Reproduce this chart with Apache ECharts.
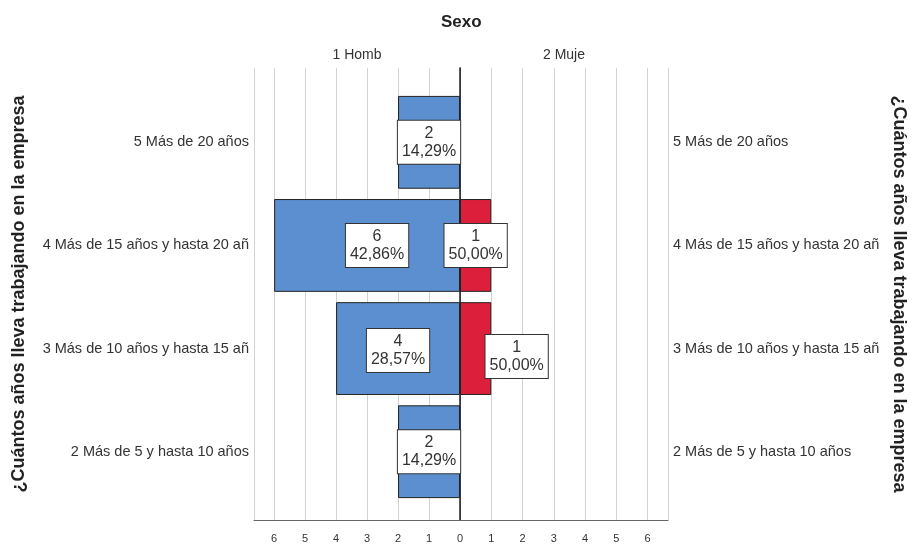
<!DOCTYPE html>
<html>
<head>
<meta charset="utf-8">
<script src="https://cdn.jsdelivr.net/npm/echarts@6/dist/echarts.min.js"></script>
<style>
  html, body { margin: 0; padding: 0; background: #fff; }
  #chart { width: 914px; height: 544px; }
</style>
</head>
<body>
<div id="chart"></div>
<script>
// Years working in the company, split by sex (counts per group)
const categories = [
  '5 Más de 20 años',
  '4 Más de 15 años y hasta 20 añ',
  '3 Más de 10 años y hasta 15 añ',
  '2 Más de 5 y hasta 10 años'
];
const hombre = [2, 6, 4, 2];
const mujer = [0, 1, 1, 0];
const sexNames = ['1 Homb', '2 Muje'];
const axisTitle = '¿Cuántos años lleva trabajando en la empresa';
const axisMax = 6.65;

// label box nudges so neighbouring boxes do not collide
const hombreLabelShift = [[0, 0], [10, 0], [0, 2], [0, 0]];
const mujerLabelShift = [[0, 0], [0, 0], [41, 8], [0, 0]];

const FONT = '"Liberation Sans", Arial, sans-serif';
const BLUE = '#5b8fcf';
const RED = '#dc1f3a';

function pct(v, total) {
  return (v / total * 100).toFixed(2).replace('.', ',') + '%';
}

function buildItems(values, shifts) {
  const total = values.reduce((a, b) => a + b, 0);
  return values.map((v, i) => ({
    value: v,
    itemStyle: v === 0 ? { borderWidth: 0 } : undefined,
    label: v === 0 ? { show: false } : { offset: shifts[i], formatter: v + '\n' + pct(v, total) }
  }));
}

const boxLabel = {
  show: true,
  position: 'inside',
  fontFamily: FONT,
  fontSize: 16,
  lineHeight: 18,
  color: '#333',
  align: 'center',
  backgroundColor: '#fff',
  borderColor: '#333',
  borderWidth: 1,
  padding: [4, 4, 3, 4]
};

const TOP = 68, BOTTOM_Y = 523;
const BAR_TOP = 90.75, BAR_H = 412.5;
const LEFT = 254, MID = 460, RIGHT = 668;

const tickLabel = { fontSize: 11, color: '#333', margin: 13, fontFamily: FONT };
const catLabel = { fontSize: 14.5, color: '#333', margin: 5, fontFamily: FONT, padding: [3, 0, 0, 0] };
const sexName = { fontSize: 14, color: '#333', fontFamily: FONT };
const titleName = { fontSize: 18, fontWeight: 'bold', color: '#222', fontFamily: FONT };

const option = {
  animation: false,
  backgroundColor: '#fff',
  textStyle: { fontFamily: FONT },
  title: {
    text: 'Sexo',
    left: 436,
    top: 9,
    textStyle: { fontFamily: FONT, fontSize: 17, fontWeight: 'bold', color: '#222' }
  },
  grid: [
    { left: LEFT, top: TOP, width: MID - LEFT, height: BOTTOM_Y - TOP },
    { left: MID, top: TOP, width: RIGHT - MID, height: BOTTOM_Y - TOP },
    { left: LEFT, top: BAR_TOP, width: MID - LEFT, height: BAR_H },
    { left: MID, top: BAR_TOP, width: RIGHT - MID, height: BAR_H }
  ],
  xAxis: [
    {
      gridIndex: 0, type: 'value', position: 'bottom', min: 0, max: axisMax, interval: 1, inverse: true,
      splitLine: { show: true, lineStyle: { color: '#d2d2d2', width: 1 } },
      axisLine: { show: true, lineStyle: { color: '#666' } },
      axisTick: { show: false },
      axisLabel: Object.assign({ showMaxLabel: false }, tickLabel)
    },
    {
      gridIndex: 1, type: 'value', position: 'bottom', min: 0, max: axisMax, interval: 1,
      splitLine: { show: true, lineStyle: { color: '#d2d2d2', width: 1 } },
      axisLine: { show: true, lineStyle: { color: '#666' } },
      axisTick: { show: false },
      axisLabel: Object.assign({ showMaxLabel: false, showMinLabel: false }, tickLabel)
    },
    {
      gridIndex: 0, type: 'value', position: 'top', min: 0, max: axisMax, inverse: true,
      name: sexNames[0], nameLocation: 'middle', nameGap: 6, nameTextStyle: sexName,
      axisLine: { show: false }, axisTick: { show: false }, axisLabel: { show: false }, splitLine: { show: false }
    },
    {
      gridIndex: 1, type: 'value', position: 'top', min: 0, max: axisMax,
      name: sexNames[1], nameLocation: 'middle', nameGap: 6, nameTextStyle: sexName,
      axisLine: { show: false }, axisTick: { show: false }, axisLabel: { show: false }, splitLine: { show: false }
    },
    { gridIndex: 2, type: 'value', min: 0, max: axisMax, inverse: true, show: false },
    { gridIndex: 3, type: 'value', min: 0, max: axisMax, show: false }
  ],
  yAxis: [
    {
      gridIndex: 0, type: 'value', position: 'left', min: 0, max: 1,
      axisLine: { show: true, lineStyle: { color: '#777' } },
      axisTick: { show: false }, axisLabel: { show: false }, splitLine: { show: false },
      name: axisTitle, nameLocation: 'middle', nameRotate: 90, nameGap: 226, nameTextStyle: titleName
    },
    {
      gridIndex: 1, type: 'value', position: 'right', min: 0, max: 1,
      axisLine: { show: true, lineStyle: { color: '#777' } },
      axisTick: { show: false }, axisLabel: { show: false }, splitLine: { show: false },
      name: axisTitle, nameLocation: 'middle', nameRotate: -90, nameGap: 222, nameTextStyle: titleName
    },
    {
      gridIndex: 1, type: 'value', position: 'left', min: 0, max: 1,
      axisLine: { show: true, lineStyle: { color: '#222', width: 1.5 } },
      axisTick: { show: false }, axisLabel: { show: false }, splitLine: { show: false }
    },
    {
      gridIndex: 2, type: 'category', data: categories, inverse: true, position: 'left',
      axisLine: { show: false }, axisTick: { show: false }, splitLine: { show: false },
      axisLabel: catLabel
    },
    {
      gridIndex: 3, type: 'category', data: categories, inverse: true, position: 'right',
      axisLine: { show: false }, axisTick: { show: false }, splitLine: { show: false },
      axisLabel: catLabel
    }
  ],
  series: [
    {
      name: sexNames[0], type: 'bar', xAxisIndex: 4, yAxisIndex: 3,
      barCategoryGap: '10%',
      itemStyle: { color: BLUE, borderColor: '#222', borderWidth: 1 },
      label: boxLabel,
      data: buildItems(hombre, hombreLabelShift)
    },
    {
      name: sexNames[1], type: 'bar', xAxisIndex: 5, yAxisIndex: 4,
      barCategoryGap: '10%',
      itemStyle: { color: RED, borderColor: '#222', borderWidth: 1 },
      label: boxLabel,
      data: buildItems(mujer, mujerLabelShift)
    }
  ]
};

echarts.init(document.getElementById('chart'), null, { renderer: 'canvas' }).setOption(option);
</script>
</body>
</html>
